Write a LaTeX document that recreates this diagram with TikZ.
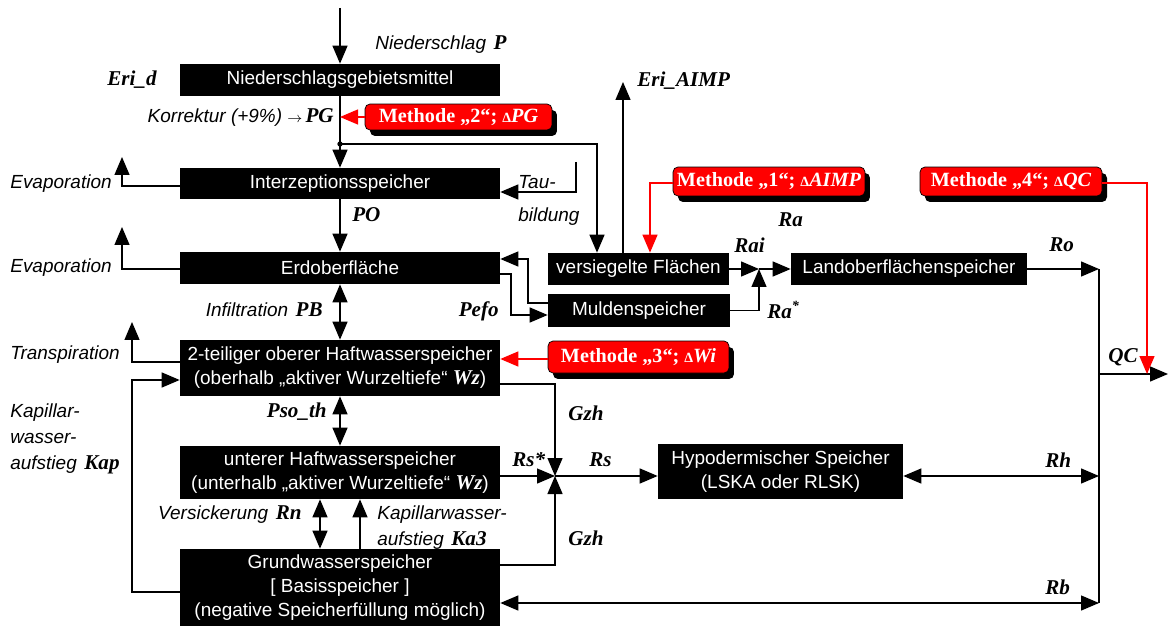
\documentclass[tikz,border=0pt]{standalone}
\usepackage{fontspec}
\setmainfont{Liberation Sans}
\newfontfamily\serifbf{Liberation Serif}
\usetikzlibrary{arrows.meta,shadows}

% bold italic symbols and the small delta of the method boxes
\newcommand{\sym}[1]{{\serifbf\bfseries\itshape\fontsize{12}{14}\selectfont #1}}
\newcommand{\dlt}{{\serifbf\bfseries\fontsize{8}{8}\selectfont Δ}}

\begin{document}
\begin{tikzpicture}[x=0.02cm,y=-0.02cm,
    pipe/.style={line width=0.75pt},
    flow/.style={pipe,-{Triangle[length=0.36cm,width=0.3cm]}},
    twoway/.style={pipe,{Triangle[length=0.36cm,width=0.3cm]}-{Triangle[length=0.36cm,width=0.3cm]}},
    redflow/.style={line width=0.75pt,red,-{Triangle[length=0.36cm,width=0.3cm]}},
    store/.style={fill=black,text=white,inner sep=0pt,align=center,
      font=\fontsize{10.8}{13.7}\selectfont},
    method/.style={fill=red,draw=black,thin,rounded corners=0.1cm,text=white,inner sep=0pt,
      font=\serifbf\bfseries\fontsize{11.5}{14}\selectfont,
      drop shadow={opacity=1,fill=black,shadow xshift=0.1cm,shadow yshift=-0.12cm}},
    lbl/.style={inner sep=0pt,font=\itshape\fontsize{10.8}{14.7}\selectfont},
    var/.style={inner sep=0pt,font=\serifbf\bfseries\itshape\fontsize{12}{14}\selectfont}]
  \useasboundingbox (0,0) rectangle (1168,628);

  % ---- storages ----
  \node[store,minimum width=6.4cm,minimum height=0.64cm] (nied) at (340,80) {Niederschlagsgebietsmittel};
  \node[store,minimum width=6.4cm,minimum height=0.62cm] (interz) at (340,183.5) {Interzeptionsspeicher};
  \node[store,minimum width=6.4cm,minimum height=0.64cm] (erd) at (340,268) {Erdoberfläche};
  \node[store,minimum width=6.4cm,minimum height=1.12cm] (haft) at (340,368)
    {2-teiliger oberer Haftwasserspeicher\\(oberhalb „aktiver Wurzeltiefe“ \sym{Wz})};
  \node[store,minimum width=6.4cm,minimum height=1.06cm] (unter) at (340,472.5)
    {unterer Haftwasserspeicher\\(unterhalb „aktiver Wurzeltiefe“ \sym{Wz})};
  \node[store,minimum width=6.4cm,minimum height=1.54cm] (grund) at (340,587.5)
    {Grundwasserspeicher\\{}[ Basisspeicher ]\\(negative Speicherfüllung möglich)};
  \node[store,minimum width=3.62cm,minimum height=0.64cm] (versieg) at (638.5,269) {versiegelte Flächen};
  \node[store,minimum width=3.64cm,minimum height=0.66cm] (mulden) at (639,310.5) {Muldenspeicher};
  \node[store,minimum width=4.72cm,minimum height=0.64cm] (land) at (909,269) {Landoberflächenspeicher};
  \node[store,minimum width=4.9cm,minimum height=1.1cm] (hypo) at (780.5,471.5)
    {Hypodermischer Speicher\\(LSKA oder RLSK)};

  % ---- methods ----
  \node[method,minimum width=3.74cm,minimum height=0.52cm] (m2) at (458.5,117) {Methode „2“; \dlt\textit{PG}};
  \node[method,minimum width=3.84cm,minimum height=0.58cm] (m1) at (769,181.5) {Methode „1“; \dlt\textit{AIMP}};
  \node[method,minimum width=3.64cm,minimum height=0.58cm] (m4) at (1011,181.5) {Methode „4“; \dlt\textit{QC}};
  \node[method,minimum width=3.62cm,minimum height=0.64cm] (m3) at (638.5,357) {Methode „3“; \dlt\textit{Wi}};

  % ---- helper points ----
  \coordinate (pin) at (340,8);
  \coordinate (split) at (340,144);
  \coordinate (sealtop) at (597,144);
  \coordinate (tau) at (576,162);
  \coordinate (taubend) at (576,192);
  \coordinate (evap1) at (122,157);
  \coordinate (evap2) at (122,227);
  \coordinate (transp) at (132,322);
  \coordinate (kap) at (132,380);
  \coordinate (mb1) at (528,259);
  \coordinate (mb2) at (511,274);
  \coordinate (aimp) at (623,82);
  \coordinate (m1bend) at (650,183);
  \coordinate (m4bend) at (1147,183);
  \coordinate (jra) at (759,269);
  \coordinate (jrs) at (555,476);
  \coordinate (ctop) at (1099,269);
  \coordinate (cbot) at (1099,603);
  \coordinate (qc) at (1168,374);

  % ---- vertical chain ----
  \draw[flow] (pin) -- (nied);
  \draw[pipe] (nied) -- (split);
  \draw[flow] (split) -- (interz);
  \fill (split) circle (1.5pt);
  \draw[redflow] (m2) -- (m2.west -| split);
  \draw[flow] (interz) -- (erd);
  \draw[twoway] (erd) -- (haft);
  \draw[twoway] (haft) -- (unter);
  \draw[twoway] (unter.south -| 320,0) -- (grund.north -| 320,0);
  \draw[flow] (grund.north -| 360,0) -- (unter.south -| 360,0);

  % ---- losses on the left ----
  \draw[flow] (interz.west |- 0,186) -| (evap1);
  \draw[flow] (erd.west |- 0,269) -| (evap2);
  \draw[flow] (haft.west |- 0,362) -| (transp);
  \draw[flow] (grund.west |- 0,592) -| (kap) -- (kap -| haft.west);

  % ---- sealed areas and depressions ----
  \draw[flow] (split) -- (sealtop) -- (sealtop |- versieg.north);
  \draw[flow] (tau) -- (taubend) -- (taubend -| interz.east);
  \draw[flow] (versieg.north -| aimp) -- (aimp);
  \draw[redflow] (m1.west |- m1bend) -- (m1bend) -- (m1bend |- versieg.north);
  \draw[flow] (mulden.west |- 0,303) -| (mb1) -- (mb1 -| erd.east);
  \draw[flow] (erd.east |- mb2) -- (mb2) |- (mulden.west |- 0,315);
  \draw[flow] (versieg.east |- jra) -- (jra);
  \draw[flow] (mulden.east) -| (jra);
  \draw[flow] (jra) -- (land.west);

  % ---- interflow ----
  \draw[flow] (haft.east |- 0,384) -| (jrs);
  \draw[flow] (grund.east |- 0,565) -| (jrs);
  \draw[flow] (unter.east |- jrs) -- (jrs);
  \draw[flow] (jrs) -- (jrs -| hypo.west);
  \draw[redflow] (m3.west |- 0,359) -- (haft.east |- 0,359);

  % ---- outflow collector ----
  \draw[pipe] (ctop) -- (cbot);
  \draw[flow] (land.east |- ctop) -- (ctop);
  \draw[twoway] (hypo.east |- jrs) -- (ctop |- jrs);
  \draw[twoway] (grund.east |- cbot) -- (cbot);
  \draw[flow] (ctop |- qc) -- (qc);
  \draw[redflow] (m4.east |- m4bend) -- (m4bend) -- (m4bend |- qc);

  % ---- labels ----
  \node[lbl,anchor=west] (nlbl) at (375,45) {Niederschlag\hspace{0.4em}\sym{P}};
  \node[var,anchor=west] (eridlbl) at (107,80) {Eri\_d};
  \node[lbl,anchor=east] (korrlbl) at (334,117) {Korrektur (+9\%) {\fontsize{8}{8}\selectfont$\rightarrow$}\,\sym{PG}};
  \node[lbl,anchor=west] (evap1lbl) at (10,184) {Evaporation};
  \node[lbl,anchor=west] (taulbl) at (518,182) {Tau-};
  \node[lbl,anchor=west] (bildlbl) at (518,217) {bildung};
  \node[var,anchor=west] (polbl) at (352,215) {PO};
  \node[lbl,anchor=west] (evap2lbl) at (10,268) {Evaporation};
  \node[lbl,anchor=east] (pblbl) at (323,310) {Infiltration\hspace{0.4em}\sym{PB}};
  \node[var,anchor=east] (pefolbl) at (499,311) {Pefo};
  \node[var,anchor=west] (aimplbl) at (637,81) {Eri\_AIMP};
  \node[var,anchor=west] (ralbl) at (778,220) {Ra};
  \node[var,anchor=west] (railbl) at (734,245) {Rai};
  \node[var,anchor=west] (rastlbl) at (767,310) {Ra\textsuperscript{*}};
  \node[var,anchor=west] (rolbl) at (1049,245) {Ro};
  \node[var,anchor=west] (qclbl) at (1108,357) {QC};
  \node[lbl,anchor=west] (translbl) at (10,355) {Transpiration};
  \node[lbl,anchor=west,align=left] (kaplbl) at (10,439) {Kapillar-\\wasser-\\aufstieg\hspace{0.4em}\sym{Kap}};
  \node[var,anchor=east] (psolbl) at (327,412) {Pso\_th};
  \node[var,anchor=west] (gzh1lbl) at (568,413) {Gzh};
  \node[var,anchor=west] (rsstlbl) at (512,460) {Rs*};
  \node[var,anchor=west] (rslbl) at (589,460) {Rs};
  \node[var,anchor=west] (rhlbl) at (1045,460) {Rh};
  \node[var,anchor=west] (gzh2lbl) at (568,538) {Gzh};
  \node[var,anchor=west] (rblbl) at (1045,587) {Rb};
  \node[lbl,anchor=east] (rnlbl) at (302,515) {Versickerung\hspace{0.4em}\sym{Rn}};
  \node[lbl,anchor=west,align=left] (ka3lbl) at (377,528) {Kapillarwasser-\\aufstieg\hspace{0.4em}\sym{Ka3}};
\end{tikzpicture}
\end{document}
